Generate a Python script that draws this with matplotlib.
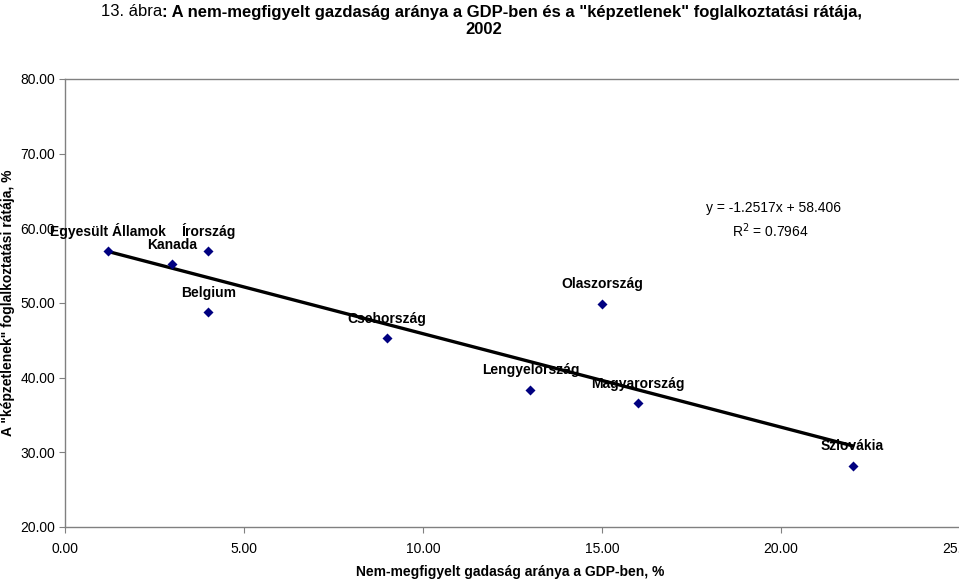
import numpy as np
import matplotlib
matplotlib.use("Agg")
import matplotlib.pyplot as plt
from matplotlib.ticker import FormatStrFormatter

# ── Données ───────────────────────────────────────────────────
countries = ["Egyesült Államok", "Kanada", "Írország", "Belgium", "Csehország",
             "Lengyelország", "Olaszország", "Magyarország", "Szlovákia"]
shadow_gdp = [1.2, 3.0, 4.0, 4.0, 9.0, 13.0, 15.0, 16.0, 22.0]
unskilled_rate = [57.0, 55.2, 57.0, 48.8, 45.3, 38.4, 49.9, 36.6, 28.2]

slope, intercept = -1.2517, 58.406
r2 = 0.7964

x_ticks = [0, 5, 10, 15, 20, 25]
y_ticks = [20, 30, 40, 50, 60, 70, 80]

plt.rcParams["font.family"] = ["Liberation Sans", "DejaVu Sans"]
GRAY = "#808080"

fig = plt.figure(figsize=(9.59, 5.80), dpi=100)
ax = fig.add_axes([65 / 959, 53 / 580, 895 / 959, 448 / 580])

# ── Droite de tendance ────────────────────────────────────────
xs = np.array([min(shadow_gdp), max(shadow_gdp)])
ax.plot(xs, slope * xs + intercept, color="black", lw=2.4, zorder=2)

# ── Points + étiquettes ───────────────────────────────────────
ax.scatter(shadow_gdp, unskilled_rate, marker="D", s=26, color="#000080",
           zorder=3, linewidths=0)

for name, x, y in zip(countries, shadow_gdp, unskilled_rate):
    ax.annotate(name, (x, y), xytext=(0, 14), textcoords="offset points",
                ha="center", va="center", fontsize=10, fontweight="bold",
                annotation_clip=False, zorder=4)

# ── Axes ──────────────────────────────────────────────────────
ax.set_xlim(0, 25)
ax.set_ylim(20, 80)
ax.set_xticks(x_ticks)
ax.set_yticks(y_ticks)
ax.xaxis.set_major_formatter(FormatStrFormatter("%.2f"))
ax.yaxis.set_major_formatter(FormatStrFormatter("%.2f"))
ax.tick_params(axis="both", direction="out", length=4, color=GRAY,
               labelsize=10, pad=3)
ax.tick_params(axis="x", pad=7)

for side in ["left", "bottom", "top"]:
    ax.spines[side].set_color(GRAY)
    ax.spines[side].set_linewidth(1.0)
ax.spines["right"].set_visible(False)

# ── Équation ──────────────────────────────────────────────────
fig.text(773 / 959, 1 - 208 / 580, f"y = {slope:.4f}x + {intercept:.3f}",
         ha="center", va="center", fontsize=10)
fig.text(770 / 959, 1 - 231 / 580, f"R$^2$ = {r2:.4f}", ha="center", va="center",
         fontsize=10)

# ── Titres des axes ───────────────────────────────────────────
fig.text(510 / 959, 1 - 572 / 580, "Nem-megfigyelt gadaság aránya a GDP-ben, %",
         ha="center", va="center", fontsize=10, fontweight="bold")
fig.text(8 / 959, 1 - 303 / 580, 'A "képzetlenek" foglalkoztatási rátája, %',
         ha="center", va="center", rotation=90, fontsize=10, fontweight="bold")

# ── Titre (normal + gras) ─────────────────────────────────────
fig.text(162 / 959, 1 - 12 / 580, "13. ábra", ha="right", va="center",
         fontsize=12)
fig.text(162 / 959, 1 - 12 / 580,
         ': A nem-megfigyelt gazdaság aránya a GDP-ben és a "képzetlenek" foglalkoztatási rátája,',
         ha="left", va="center", fontsize=12, fontweight="bold")
fig.text(484 / 959, 1 - 30 / 580, "2002", ha="center", va="center",
         fontsize=12, fontweight="bold")

fig.savefig("out.png", dpi=100)
